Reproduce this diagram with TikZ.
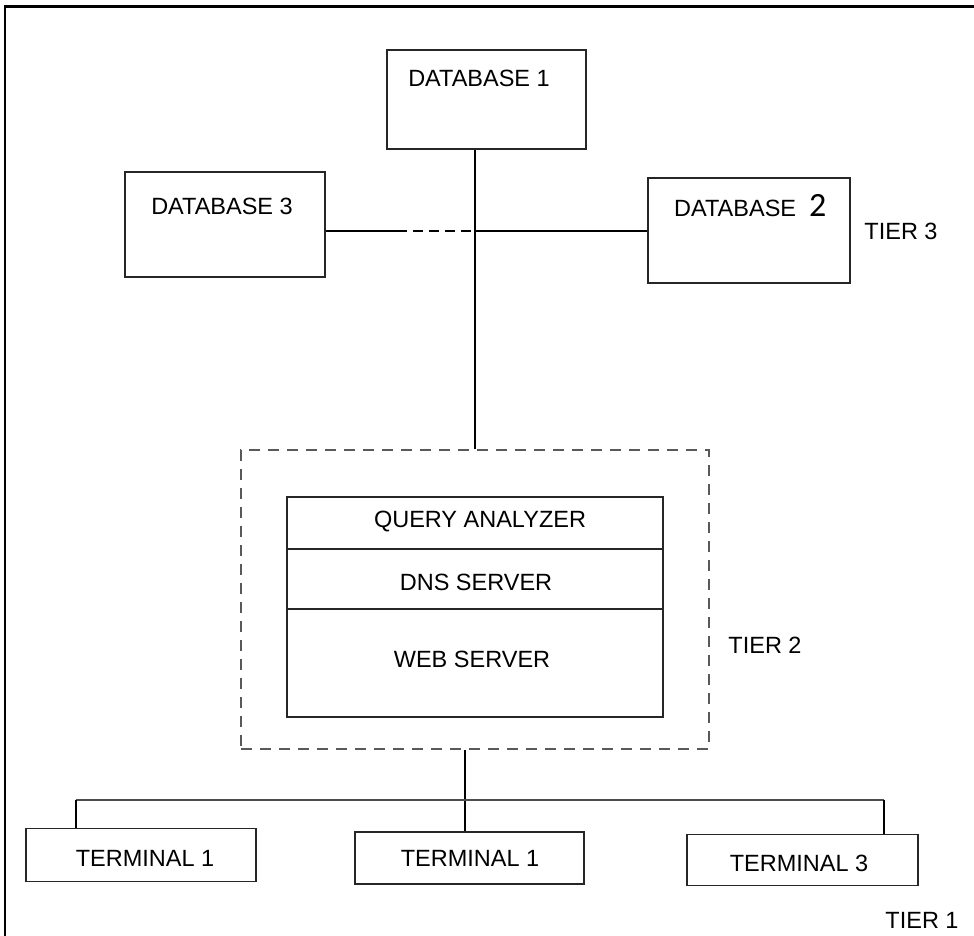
\documentclass[tikz,border=0pt]{standalone}
\usepackage{fontspec}
\setmainfont{Liberation Sans}
\newfontfamily\twofont{Carlito}
\begin{document}
\begin{tikzpicture}[x=1pt,y=-1pt,
  box/.style={draw=black!85, line width=1.4pt, inner sep=0pt, rectangle},
  lbl/.style={inner sep=0pt, font=\fontsize{23.5}{26}\selectfont},
  link/.style={draw=black, line width=1.1pt},
  tierbox/.style={draw=black!65, line width=1.7pt, dash pattern=on 11pt off 8pt, inner sep=0pt, rectangle}]
\useasboundingbox (0,0) rectangle (974,936);
% frame (top and left edges only)
\draw[line width=3pt] (4,7) -- (974,7);
\draw[line width=2pt] (5,6) -- (5,936);

% tier 3
\node[box, minimum width=199pt, minimum height=99pt] (db1) at (486.5,99.5) {};
\node[box, minimum width=200pt, minimum height=105pt] (db3) at (225,224.5) {};
\node[box, minimum width=202pt, minimum height=105pt] (db2) at (749,230.5) {};
\node[lbl] (t1) at (479,78) {DATABASE 1};
\node[lbl] (t3) at (222,206) {DATABASE 3};
\node[lbl, anchor=base west] (t2) at (674,216) {DATABASE\hspace{13pt}{\twofont\fontsize{34}{36}\selectfont 2}};
\node[lbl] (tier3) at (901,231) {TIER 3};

% tier 2
\node[tierbox, minimum width=468pt, minimum height=299pt] (tier2) at (475,599.5) {};
\node[box, minimum width=376pt, minimum height=52pt] (qa) at (475,523) {};
\node[box, minimum width=376pt, minimum height=60pt] (dns) at (475,579) {};
\node[box, minimum width=376pt, minimum height=108pt] (web) at (475,663) {};
\node[lbl] (tqa) at (480,522) {QUERY ANALYZER};
\node[lbl] (tdns) at (476,582) {DNS SERVER};
\node[lbl] (tweb) at (472,659) {WEB SERVER};
\node[lbl] (tier2l) at (765,645) {TIER 2};

% tier 1
\node[box, minimum width=230pt, minimum height=53pt] (term1) at (141,855) {};
\node[box, minimum width=229pt, minimum height=52pt] (term2) at (469.5,858) {};
\node[box, minimum width=231pt, minimum height=51pt] (term3) at (802.5,860) {};
\node[lbl] (tt1) at (145,858) {TERMINAL 1};
\node[lbl] (tt2) at (470,858) {TERMINAL 1};
\node[lbl] (tt3) at (799,863) {TERMINAL 3};
\node[lbl] (tier1) at (922,920) {TIER 1};

% connectors tier 3
\coordinate (j) at (475,231);
\coordinate (dstart) at (397,231);
\draw[link] (db1.south -| j) -- (j) -- (j |- tier2.north);
\draw[link] (db3.east |- j) -- (dstart);
\draw[link, line width=1.6pt, dash pattern=on 10pt off 6pt] (dstart) -- (j);
\draw[link] (j) -- (db2.west |- j);

% connectors tier 1
\coordinate (m) at (465,800);
\coordinate (busl) at (76,800);
\coordinate (busr) at (884,800);
\draw[link] (tier2.south -| m) -- (m) -- (m |- term2.north);
\draw[link, draw=black!70, line width=1.6pt] (busl) -- (busr);
\draw[link] (busl) -- (busl |- term1.north);
\draw[link] (busr) -- (busr |- term3.north);
\end{tikzpicture}
\end{document}
